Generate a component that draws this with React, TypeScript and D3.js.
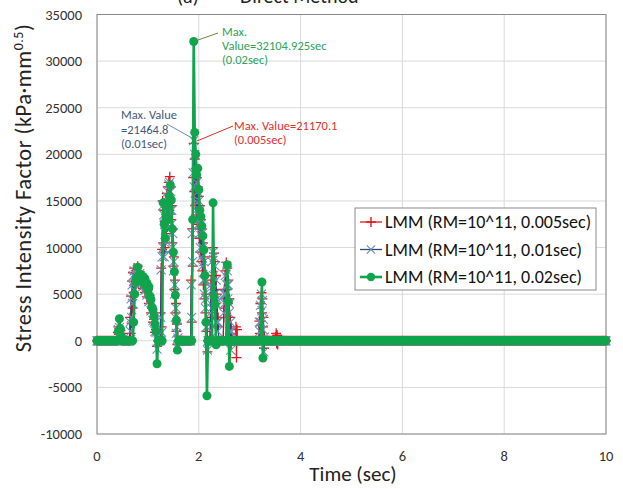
import React from "react";
import * as d3 from "d3";

const xTicks = [0, 2, 4, 6, 8, 10];
const yTicks = [-10000, -5000, 0, 5000, 10000, 15000, 20000, 25000, 30000, 35000];

const seriesNames = [
  "LMM (RM=10^11, 0.005sec)",
  "LMM (RM=10^11, 0.01sec)",
  "LMM (RM=10^11, 0.02sec)",
];
const seriesSteps = [0.005, 0.01, 0.02];
const tEnd = 10;

// Non-zero bursts (time sec, SIF); elsewhere the curves sit at 0.
const redBursts: [number, number][][] = [
  [[0.40,0],[0.41,900],[0.42,1500],[0.43,700],[0.44,1300],[0.45,400],[0.46,1100],[0.47,300],[0.48,800],[0.49,0]],
  [[0.64,0],[0.65,2500],[0.66,800],[0.67,4800],[0.68,1900],[0.69,6400],[0.70,3500],[0.71,7300],[0.72,5200],[0.73,7800],[0.74,6000],[0.76,7500],[0.78,6400],[0.80,8000],[0.82,6200],[0.84,7400],[0.86,6000],[0.88,7000],[0.90,5600],[0.92,6600],[0.94,5200],[0.96,6100],[0.98,4700],[1.00,5500],[1.02,4000],[1.04,4600],[1.06,3000],[1.08,3500],[1.10,2000],[1.12,2300],[1.14,900],[1.16,1200],[1.18,-600],[1.20,0]],
  [[1.24,0],[1.25,3000],[1.26,7800],[1.27,1500],[1.28,9800],[1.29,15000],[1.30,10500],[1.31,14000],[1.32,9500],[1.33,12800],[1.34,10000],[1.35,14500],[1.36,11500],[1.37,15800],[1.38,12200],[1.39,16500],[1.40,13000],[1.41,17000],[1.42,14000],[1.43,17600],[1.44,14500],[1.45,16500],[1.46,13000],[1.47,14500],[1.48,10500],[1.49,12000],[1.50,8000],[1.51,9000],[1.52,5500],[1.53,6500],[1.54,3000],[1.55,4000],[1.56,1000],[1.57,1800],[1.58,-400],[1.59,500],[1.60,0]],
  [[1.84,0],[1.85,6500],[1.86,2000],[1.87,12000],[1.88,8000],[1.89,17500],[1.90,21170.1],[1.91,16000],[1.92,19500],[1.93,14500],[1.94,18500],[1.95,13500],[1.96,17500],[1.97,12500],[1.98,16500],[1.99,12000],[2.00,15500],[2.01,11000],[2.02,14500],[2.03,9500],[2.04,13000],[2.05,8500],[2.06,12000],[2.07,7500],[2.08,10500],[2.09,6000],[2.10,9000],[2.11,4500],[2.12,7000],[2.13,3000],[2.14,5000],[2.15,1000],[2.16,2000],[2.17,-1200],[2.18,0]],
  [[2.22,0],[2.23,2500],[2.24,6500],[2.25,3000],[2.26,9000],[2.27,5000],[2.28,10000],[2.29,7000],[2.30,9400],[2.31,5500],[2.32,8500],[2.33,4000],[2.34,7000],[2.35,2500],[2.36,5000],[2.37,1500],[2.38,2500],[2.39,0]],
  [[2.48,0],[2.49,2500],[2.50,5500],[2.51,3500],[2.52,7500],[2.53,4500],[2.54,8400],[2.55,5500],[2.56,7800],[2.57,4000],[2.58,6500],[2.59,2500],[2.60,4500],[2.61,800],[2.62,2500],[2.63,-500],[2.64,1500],[2.66,0],[2.72,0],[2.73,1500],[2.74,-1800],[2.75,1200],[2.76,0]],
  [[3.18,0],[3.19,2100],[3.20,800],[3.21,4000],[3.22,2100],[3.23,5150],[3.24,3000],[3.25,4500],[3.26,1500],[3.27,2500],[3.28,-800],[3.29,500],[3.30,0]],
  [[3.50,0],[3.51,400],[3.52,800],[3.53,-300],[3.54,600],[3.55,-400],[3.56,0]],
];

const blueBursts: [number, number][][] = [
  [[0.40,0],[0.42,1200],[0.43,600],[0.44,1400],[0.45,500],[0.46,900],[0.48,0]],
  [[0.64,0],[0.65,2000],[0.66,1000],[0.67,4500],[0.68,2500],[0.69,6000],[0.70,4000],[0.71,7000],[0.72,5500],[0.73,7500],[0.74,6200],[0.76,7300],[0.78,6600],[0.80,7700],[0.82,6400],[0.84,7200],[0.86,6100],[0.88,6800],[0.90,5800],[0.92,6400],[0.94,5400],[0.96,5900],[0.98,4900],[1.00,5200],[1.02,4200],[1.04,4400],[1.06,3200],[1.08,3300],[1.10,2200],[1.12,2000],[1.14,1000],[1.16,900],[1.18,-900],[1.20,0]],
  [[1.24,0],[1.25,2500],[1.26,7600],[1.27,900],[1.28,9000],[1.29,14500],[1.30,10000],[1.31,13500],[1.32,9000],[1.33,12500],[1.34,10500],[1.35,14000],[1.36,11000],[1.37,15500],[1.38,12500],[1.39,16000],[1.40,13500],[1.41,16800],[1.42,14000],[1.43,17000],[1.44,14000],[1.45,16000],[1.46,12500],[1.47,14000],[1.48,10000],[1.49,11500],[1.50,7500],[1.51,8500],[1.52,5000],[1.53,6000],[1.54,2500],[1.55,3500],[1.56,800],[1.57,1500],[1.58,-700],[1.59,300],[1.60,0]],
  [[1.84,0],[1.85,6000],[1.86,2500],[1.87,11500],[1.88,8500],[1.89,18000],[1.90,21464.8],[1.91,16500],[1.92,20000],[1.93,15000],[1.94,18000],[1.95,14000],[1.96,17000],[1.97,13000],[1.98,16000],[1.99,12500],[2.00,15000],[2.01,11500],[2.02,14000],[2.03,10000],[2.04,12500],[2.05,9000],[2.06,11500],[2.07,8000],[2.08,10000],[2.09,6500],[2.10,8500],[2.11,5000],[2.12,6500],[2.13,3500],[2.14,4500],[2.15,1500],[2.16,1500],[2.17,-1000],[2.18,0]],
  [[2.22,0],[2.23,3000],[2.24,6000],[2.25,3500],[2.26,8500],[2.27,5500],[2.28,9500],[2.29,7000],[2.30,9000],[2.31,5000],[2.32,8000],[2.33,4000],[2.34,6500],[2.35,2000],[2.36,4500],[2.37,1000],[2.38,2000],[2.39,0]],
  [[2.48,0],[2.49,3000],[2.50,5000],[2.51,4000],[2.52,7000],[2.53,5000],[2.54,8000],[2.55,6000],[2.56,7500],[2.57,4500],[2.58,6000],[2.59,3000],[2.60,4000],[2.61,1000],[2.62,2000],[2.63,-1000],[2.64,1000],[2.66,0]],
  [[3.18,0],[3.19,2000],[3.20,1000],[3.21,3800],[3.22,2000],[3.23,5000],[3.24,3200],[3.25,4300],[3.26,1200],[3.27,2300],[3.28,-1200],[3.29,400],[3.30,0]],
];

const greenBursts: [number, number][][] = [
  [[0.42,1000],[0.44,2360],[0.46,1300],[0.48,500]],
  [[0.72,2000],[0.74,5000],[0.76,6300],[0.78,6800],[0.80,7900],[0.82,7000],[0.84,6600],[0.86,7100],[0.88,6500],[0.90,6900],[0.92,6200],[0.94,6700],[0.96,5900],[0.98,6200],[1.00,5400],[1.02,5800],[1.04,4800],[1.06,4400],[1.08,3600],[1.10,3300],[1.12,2600],[1.14,1800],[1.16,1000],[1.18,-2470],[1.20,0]],
  [[1.28,0],[1.30,14800],[1.32,12500],[1.34,11000],[1.36,13000],[1.38,14500],[1.40,13000],[1.42,15500],[1.44,16700],[1.46,15100],[1.48,12000],[1.50,9500],[1.52,7400],[1.54,4900],[1.56,2200],[1.58,-1000],[1.60,0]],
  [[1.86,0],[1.88,13000],[1.90,32104.925],[1.92,22350],[1.94,20000],[1.96,17800],[1.98,18500],[2.00,16200],[2.02,14000],[2.04,13300],[2.06,12300],[2.08,11260],[2.10,9760],[2.12,7000],[2.14,2000],[2.16,-5900],[2.18,0]],
  [[2.26,0],[2.28,14800],[2.30,4750],[2.32,3860],[2.34,-430],[2.36,0]],
  [[2.54,0],[2.56,8150],[2.58,4200],[2.60,-2750],[2.62,0]],
  [[3.22,0],[3.24,6300],[3.26,-1850],[3.28,0]],
];

function buildSeries(step: number, bursts: [number, number][][]): [number, number][] {
  const windows = bursts.map((b) => [b[0][0], b[b.length - 1][0]]);
  const pts: [number, number][] = [];
  const n = Math.round(tEnd / step);
  for (let i = 0; i <= n; i++) {
    const t = +(i * step).toFixed(4);
    if (!windows.some(([a, b]) => t >= a - 1e-6 && t <= b + 1e-6)) pts.push([t, 0]);
  }
  bursts.forEach((b) => b.forEach((p) => pts.push(p)));
  pts.sort((a, b) => a[0] - b[0]);
  return pts;
}

const W = 623, H = 489;
const x = d3.scaleLinear().domain([0, 10]).range([97, 606]);
const y = d3.scaleLinear().domain([-10000, 35000]).range([434, 14.5]);

const FONT = "Carlito, Lato, 'Open Sans', sans-serif";
const RED = "#e3171c";
const BLUE_LINE = "#2b4a78";
const BLUE_MARK = "#6f8db5";
const GREEN = "#10a44d";

const plusPath = "M-5,0H5M0,-5V5";
const crossPath = "M-4.2,-4.2L4.2,4.2M-4.2,4.2L4.2,-4.2";

export default function App() {
  const red = buildSeries(seriesSteps[0], redBursts);
  const blue = buildSeries(seriesSteps[1], blueBursts);
  const green = buildSeries(seriesSteps[2], greenBursts);
  const line = d3.line<[number, number]>().x((d) => x(d[0])).y((d) => y(d[1]));
  const [x0, x1] = x.range();
  const [yb, yt] = y.range();

  const legendRows = [
    { name: seriesNames[0], kind: "plus" },
    { name: seriesNames[1], kind: "cross" },
    { name: seriesNames[2], kind: "circle" },
  ];

  return (
    <svg width={W} height={H} style={{ position: "absolute", left: 0, top: 0, background: "#fff" }} fontFamily={FONT}>
      <rect width={W} height={H} fill="#fff" />
      {/* title (cut off at top) */}
      <text x={177} y={3} fontSize={20} fill="#222">(a)</text>
      <text x={240} y={3} fontSize={20} fill="#222">Direct Method</text>

      {/* grid */}
      {yTicks.map((v) => (
        <line key={"gy" + v} x1={x0} x2={x1} y1={y(v)} y2={y(v)} stroke="#d9d9d9" strokeWidth={1} />
      ))}
      {xTicks.map((v) => (
        <line key={"gx" + v} x1={x(v)} x2={x(v)} y1={yb} y2={yt} stroke="#d9d9d9" strokeWidth={1} />
      ))}
      <rect x={x0} y={yt} width={x1 - x0} height={yb - yt} fill="none" stroke="#8a8a8a" strokeWidth={1} />

      {/* tick labels */}
      {yTicks.map((v) => (
        <text key={"ty" + v} x={82} y={y(v) + 5} fontSize={14.5} textAnchor="end" fill="#333">{v}</text>
      ))}
      {xTicks.map((v) => (
        <text key={"tx" + v} x={x(v)} y={461} fontSize={14.5} textAnchor="middle" fill="#333">{v}</text>
      ))}

      {/* axis titles */}
      <text x={353} y={481} fontSize={21} textAnchor="middle" fill="#222">Time (sec)</text>
      <text transform={`translate(31,188) rotate(-90)`} fontSize={22.5} letterSpacing={0.5} textAnchor="middle" fill="#222">
        Stress Intensity Factor (kPa·mm<tspan dy={-8} fontSize={14}>0.5</tspan><tspan dy={8}>)</tspan>
      </text>

      {/* series 1: red + */}
      <path d={line(red) || ""} fill="none" stroke={RED} strokeWidth={1.2} />
      <path
        d={red.map((p) => `M${x(p[0]) - 5},${y(p[1])}h10M${x(p[0])},${y(p[1]) - 5}v10`).join("")}
        fill="none" stroke={RED} strokeWidth={1.3}
      />
      {/* series 2: blue x */}
      <path d={line(blue) || ""} fill="none" stroke={BLUE_LINE} strokeWidth={1.2} />
      <path
        d={blue.map((p) => { const cx = x(p[0]), cy = y(p[1]); return `M${cx - 4.5},${cy - 4.5}l9,9M${cx - 4.5},${cy + 4.5}l9,-9`; }).join("")}
        fill="none" stroke={BLUE_MARK} strokeWidth={1.1}
      />
      {/* series 3: green circles */}
      <path d={line(green) || ""} fill="none" stroke={GREEN} strokeWidth={2.6} />
      {green.map((p, i) => (
        <circle key={"g" + i} cx={x(p[0])} cy={y(p[1])} r={4.5} fill={GREEN} />
      ))}

      {/* annotations */}
      <line x1={198} y1={40} x2={218} y2={33} stroke="#7a7a3a" strokeWidth={1} />
      <g fontSize={12.5} fill="#2ea35a">
        <text x={222} y={36}>Max.</text>
        <text x={222} y={50}>Value=32104.925sec</text>
        <text x={222} y={64}>(0.02sec)</text>
      </g>
      <line x1={167} y1={124} x2={192} y2={138} stroke="#6f8db5" strokeWidth={1} />
      <g fontSize={12.5} fill="#3f5a7d">
        <text x={121} y={119}>Max. Value</text>
        <text x={121} y={133.5}>=21464.8</text>
        <text x={121} y={148}>(0.01sec)</text>
      </g>
      <line x1={197} y1={141} x2={233} y2={126} stroke="#e0302e" strokeWidth={1} />
      <g fontSize={12.5} fill="#e0302e">
        <text x={234} y={130}>Max. Value=21170.1</text>
        <text x={234} y={144}>(0.005sec)</text>
      </g>

      {/* legend */}
      <rect x={355} y={208} width={241} height={82} fill="#fff" stroke="#8a8a8a" strokeWidth={1} />
      {legendRows.map((r, i) => {
        const ly = 222 + i * 27.5;
        return (
          <g key={r.name}>
            {r.kind === "plus" && (
              <>
                <line x1={360} x2={382} y1={ly} y2={ly} stroke={RED} strokeWidth={1.3} />
                <path d={plusPath} transform={`translate(371,${ly})`} stroke={RED} strokeWidth={1.4} fill="none" />
              </>
            )}
            {r.kind === "cross" && (
              <>
                <line x1={360} x2={382} y1={ly} y2={ly} stroke={BLUE_LINE} strokeWidth={1.3} />
                <path d={crossPath} transform={`translate(371,${ly})`} stroke={BLUE_MARK} strokeWidth={1.2} fill="none" />
              </>
            )}
            {r.kind === "circle" && (
              <>
                <line x1={360} x2={382} y1={ly} y2={ly} stroke={GREEN} strokeWidth={2.6} />
                <circle cx={371} cy={ly} r={4.2} fill={GREEN} />
              </>
            )}
            <text x={385} y={ly + 6} fontSize={18} fill="#111">{r.name}</text>
          </g>
        );
      })}
    </svg>
  );
}
